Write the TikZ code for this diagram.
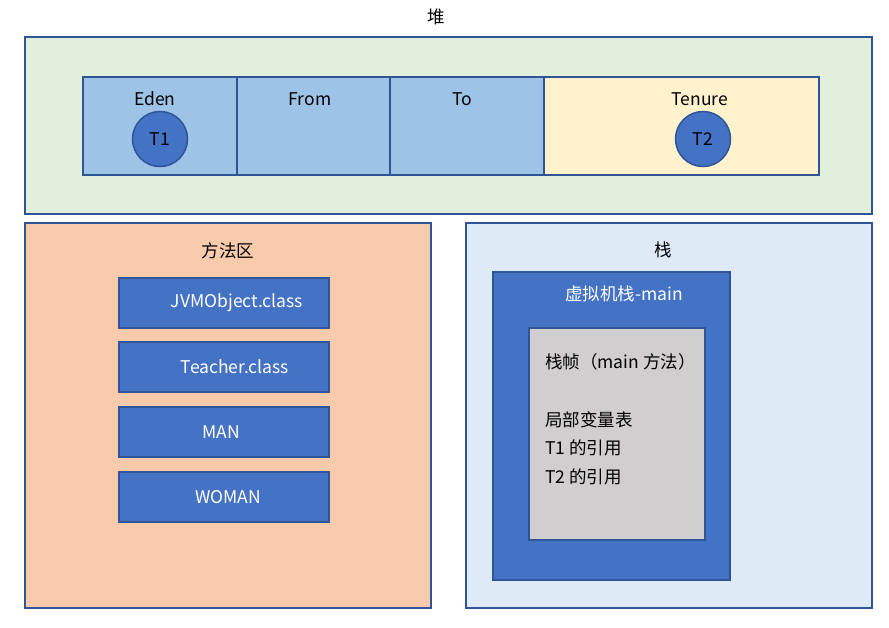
\documentclass[tikz,border=0pt]{standalone}
\usepackage{fontspec}
\setmainfont{Noto Sans CJK SC}
\definecolor{edge}{HTML}{2F5597}
\definecolor{heapfill}{HTML}{E2EFDA}
\definecolor{youngfill}{HTML}{9DC3E6}
\definecolor{oldfill}{HTML}{FFF2CC}
\definecolor{methfill}{HTML}{F8CBAD}
\definecolor{stackfill}{HTML}{DEEBF7}
\definecolor{bluefill}{HTML}{4472C4}
\definecolor{framefill}{HTML}{D0CECE}
\tikzset{
  region/.style={draw=edge, line width=2pt},
  lbl/.style={font=\fontsize{17.5}{21}\selectfont, text=black, inner sep=0pt},
  wlbl/.style={font=\fontsize{17.5}{21}\selectfont, text=white, inner sep=0pt},
  obj/.style={circle, draw=edge, line width=1.5pt, fill=bluefill, minimum size=55pt, inner sep=0pt, font=\fontsize{17.5}{21}\selectfont},
}
\begin{document}
\begin{tikzpicture}[x=1pt,y=-1pt]
\useasboundingbox (0,0) rectangle (889,627);
% heap
\draw[region, fill=heapfill] (25,37) rectangle (872,214);
\node[lbl] (heaplbl) at (436,17) {堆};
\draw[region, fill=youngfill] (83,77) rectangle (237,175);
\draw[region, fill=youngfill] (237,77) rectangle (390,175);
\draw[region, fill=youngfill] (390,77) rectangle (544,175);
\draw[region, fill=oldfill] (544,77) rectangle (819,175);
\node[lbl] (eden) at (155,99) {Eden};
\node[lbl] (from) at (310,99) {From};
\node[lbl] (to) at (462,99) {To};
\node[lbl] (tenure) at (700,99) {Tenure};
\node[obj] (t1) at (160,139) {T1};
\node[obj] (t2) at (703,139) {T2};
% method area
\draw[region, fill=methfill] (25,223) rectangle (431,608);
\node[lbl] (methlbl) at (228,251) {方法区};
\foreach \y/\t/\n/\cx in {278/JVMObject.class/c1/237, 342/Teacher.class/c2/235, 407/MAN/c3/221, 472/WOMAN/c4/228}{
  \draw[region, fill=bluefill] (119,\y) rectangle (329,\y+50);
  \node[wlbl] (\n) at (\cx,\y+25) {\t};
}
% stack
\draw[region, fill=stackfill] (466,223) rectangle (872,608);
\node[lbl] (stacklbl) at (663,250) {栈};
\draw[region, fill=bluefill] (493,272) rectangle (730,580);
\node[wlbl] (vmlbl) at (624,294) {虚拟机栈-main};
\draw[region, fill=framefill] (529,328) rectangle (705,540);
\node[lbl, anchor=west] (f1) at (545,362) {栈帧（main 方法）};
\node[lbl, anchor=west] (f2) at (545,420) {局部变量表};
\node[lbl, anchor=west] (f3) at (545,448) {T1 的引用};
\node[lbl, anchor=west] (f4) at (545,477) {T2 的引用};
\end{tikzpicture}
\end{document}
